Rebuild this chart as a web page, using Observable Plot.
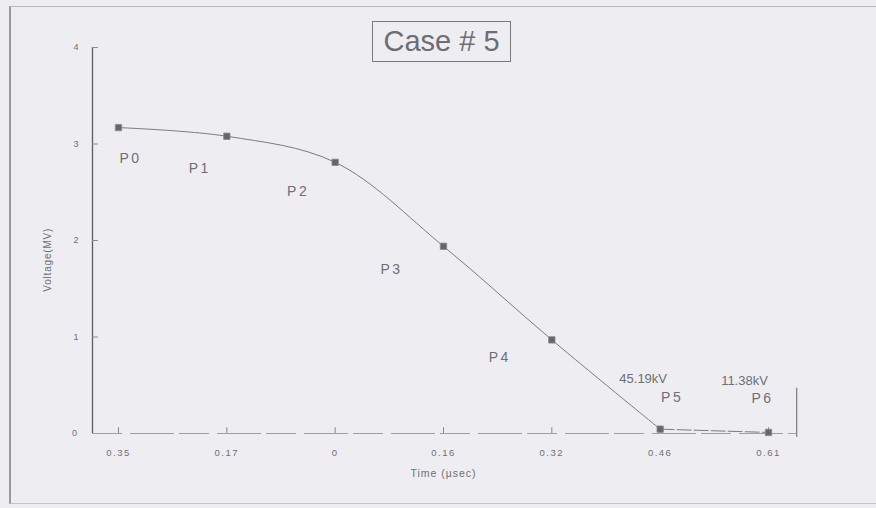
<!DOCTYPE html>
<html>
<head>
<meta charset="utf-8">
<script src="https://cdn.jsdelivr.net/npm/d3@7"></script>
<script src="https://cdn.jsdelivr.net/npm/@observablehq/plot@0.6"></script>
<style>
  html, body { margin: 0; padding: 0; background: #eeedf2; }
  #wrap { position: relative; width: 876px; height: 508px; overflow: hidden; background: #eeedf2; }
  #title { position: absolute; left: 372px; top: 21px; width: 139px; height: 41px; border: 1.5px solid #7a7a7e;
    font-family: "Liberation Sans", Arial, sans-serif; font-size: 29px; color: #6e6e72; text-align: center; line-height: 39px; box-sizing: border-box; }
  #frame { position: absolute; left: 9px; top: 6px; width: 880px; height: 498px; border-left: 2px solid #9a9a9e; border-top: 1.5px solid #b8b8bc; border-bottom: 1.5px solid #c4c4c8; box-sizing: border-box; }
  #chart { position: absolute; left: 0; top: 0; }
</style>
</head>
<body>
<div id="wrap">
  <div id="frame"></div>
  <div id="chart"></div>
  <div id="title">Case # 5</div>
</div>
<script>
const timeLabels = ["0.35", "0.17", "0", "0.16", "0.32", "0.46", "0.61"];
const pointNames = ["P0", "P1", "P2", "P3", "P4", "P5", "P6"];
const voltageMV = [3.17, 3.08, 2.81, 1.94, 0.97, 0.045, 0.011];
const yTicks = [0, 1, 2, 3, 4];
const kvNotes = [{i: 5, text: "45.19kV"}, {i: 6, text: "11.38kV"}];

const data = timeLabels.map((t, i) => ({i, t, v: voltageMV[i], name: pointNames[i]}));
const labelOffsets = [[12, 31], [-27, 32], [-37, 29], [-52, 23], [-52, 18], [12, -32], [-6, -34]];
const ink = "#6f6f74";
const font = "Liberation Sans, Arial, sans-serif";
const axisX = -0.24; // y-axis position, in category-index units

const chart = Plot.plot({
  width: 876,
  height: 508,
  margin: 0,
  style: {background: "transparent", fontFamily: font},
  x: {type: "linear", domain: [0, timeLabels.length - 1], range: [118, 768], axis: null},
  y: {domain: [0, 4], range: [433, 47], axis: null},
  marks: [
    // y axis
    Plot.ruleX([axisX], {y1: 0, y2: 4, stroke: "#5c5c60", strokeWidth: 1.3}),
    Plot.ruleY(yTicks, {x1: axisX, x2: axisX + 0.055, stroke: "#8a8a8e", strokeWidth: 1}),
    Plot.text(yTicks, {y: d => d, x: axisX, dx: -14, text: d => String(d), fill: ink, fontSize: 9, textAnchor: "end"}),
    Plot.text(["Voltage(MV)"], {x: axisX, dx: -45, y: 1.8, text: d => d, rotate: -90, fill: ink, fontSize: 10}),
    // x axis
    Plot.ruleY([0], {x1: axisX, x2: 6.26, stroke: "#a0a0a4", strokeWidth: 1, strokeDasharray: "30,8,44,5"}),
    Plot.ruleX(data, {x: "i", y1: 0, y2: 0.06, stroke: "#88888c"}),
    Plot.text(data, {x: "i", y: 0, dy: 19, text: "t", fill: ink, fontSize: 9.5}),
    Plot.text(["Time (µsec)"], {x: 3, y: 0, dy: 40, text: d => d, fill: ink, fontSize: 10.5}),
    // right partial border
    Plot.ruleX([6.26], {y1: -0.04, y2: 0.47, stroke: "#7a7a7e", strokeWidth: 1.2}),
    // curve: smooth through P0..P5, then straight along the floor to P6
    Plot.line(data.slice(0, 6), {x: "i", y: "v", curve: "catmull-rom", stroke: "#7c7c80", strokeWidth: 1}),
    Plot.line(data.slice(5), {x: "i", y: "v", stroke: "#7c7c80", strokeWidth: 1, strokeDasharray: "14,3"}),
    Plot.dot(data, {x: "i", y: "v", symbol: "square", r: 3.6, fill: "#666669", stroke: "#8a8a8e", strokeWidth: 0.8}),
    ...data.map(d => Plot.text([d], {x: "i", y: "v", text: "name", dx: labelOffsets[d.i][0], dy: labelOffsets[d.i][1], fill: ink, fontSize: 14})),
    ...kvNotes.map(k => Plot.text([k], {x: "i", y: voltageMV[k.i], text: "text", dx: k.i === 5 ? -17 : -24, dy: k.i === 5 ? -50 : -52, fill: ink, fontSize: 13}))
  ]
});

// the scanned lettering is widely tracked
const spaced = new Map([
  ...pointNames.map(n => [n, "2.5px"]),
  ...timeLabels.map(n => [n, "1.5px"]),
  ["Time (µsec)", "1px"],
  ["Voltage(MV)", "0.8px"]
]);
d3.select(chart).selectAll("text").each(function () {
  const s = spaced.get(this.textContent);
  if (s) this.style.letterSpacing = s;
});
document.getElementById("chart").appendChild(chart);
</script>
</body>
</html>
